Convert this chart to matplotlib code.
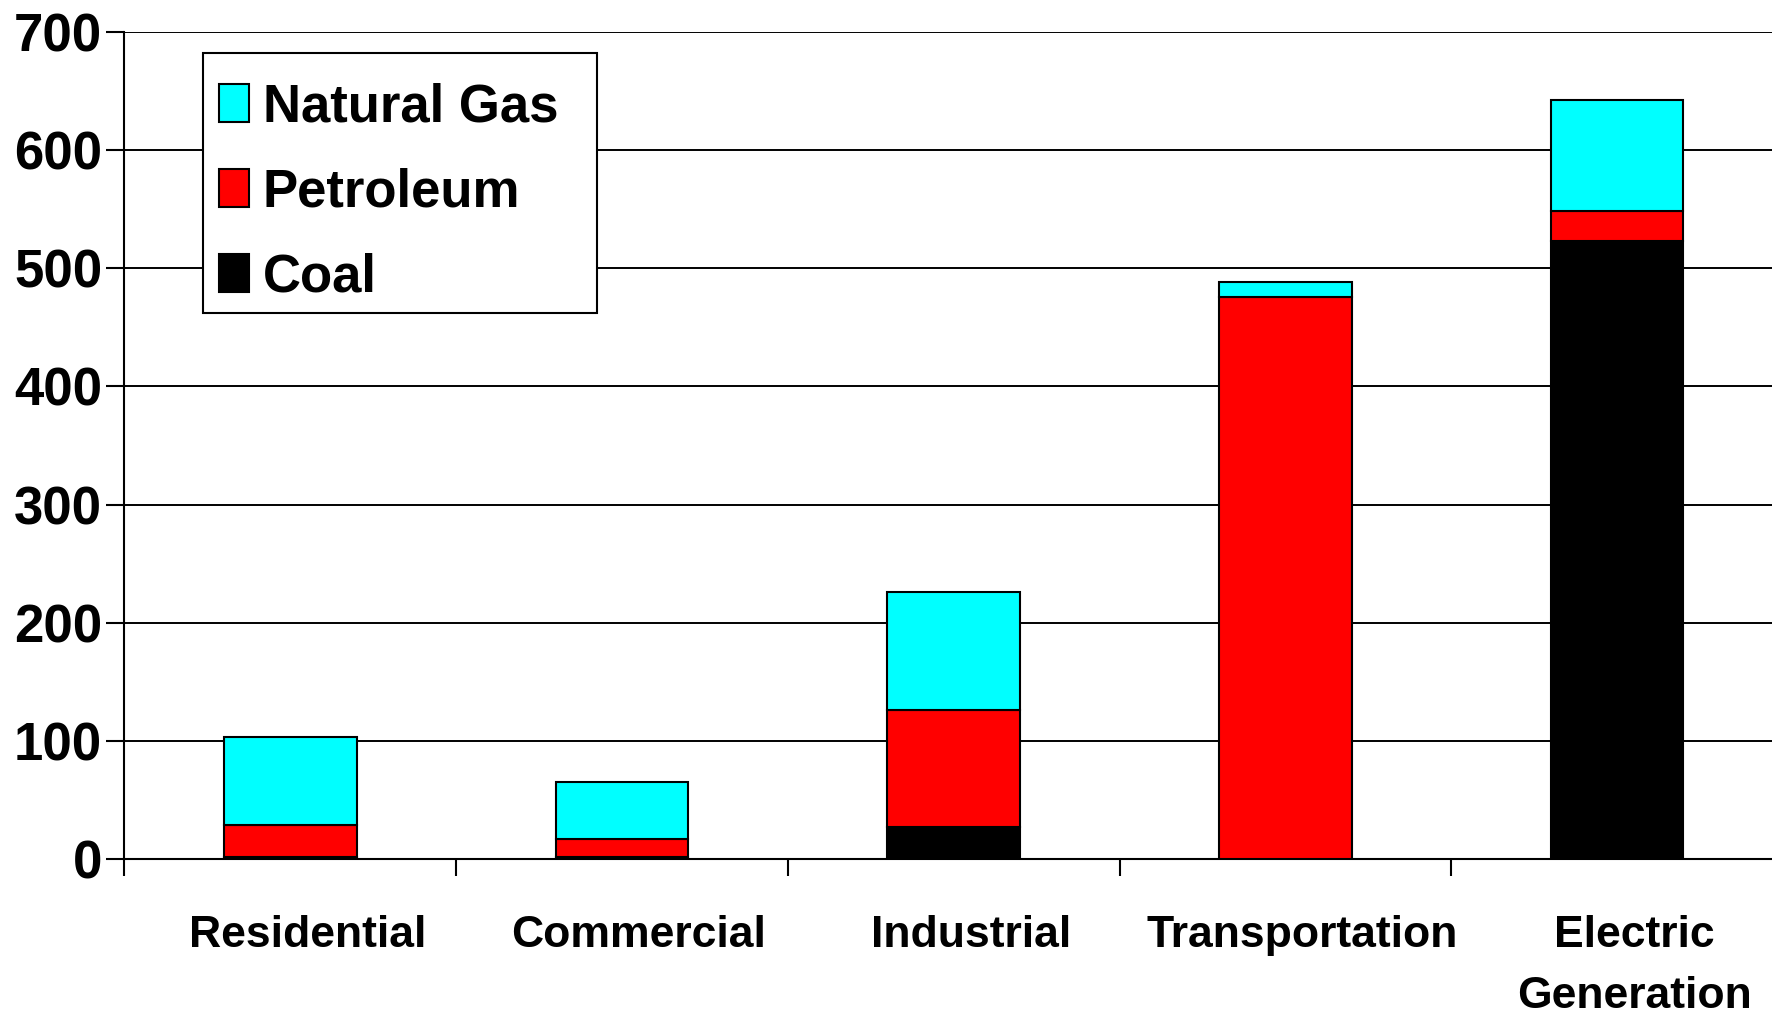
import matplotlib.pyplot as plt
import matplotlib.transforms as mtransforms
from matplotlib.patches import Rectangle
import numpy as np

plt.rcParams['font.family'] = ['Liberation Sans', 'DejaVu Sans']
plt.rcParams['font.weight'] = 'bold'

sectors = ['Residential', 'Commercial', 'Industrial', 'Transportation', 'Electric\nGeneration']
coal = [2, 2, 27, 0, 523]
petroleum = [27, 15, 99, 476, 25]
natural_gas = [74, 48, 100, 12, 94]

fig = plt.figure(figsize=(17.72, 10.14), dpi=100)
ax = fig.add_axes([0.0702, 0.1527, 0.936, 0.816])

x = np.arange(len(sectors))
w = 0.4
bottom2 = np.array(coal) + np.array(petroleum)

b_coal = ax.bar(x, coal, w, color='black', edgecolor='black', linewidth=1.5, label='Coal', zorder=3)
b_pet = ax.bar(x, petroleum, w, bottom=coal, color='#ff0000', edgecolor='black', linewidth=1.5, label='Petroleum', zorder=3)
b_gas = ax.bar(x, natural_gas, w, bottom=bottom2, color='#00ffff', edgecolor='black', linewidth=1.5, label='Natural Gas', zorder=3)

ax.set_xlim(-0.5, 4.5)
ax.set_ylim(0, 700)
ax.set_yticks(range(0, 701, 100))
ax.yaxis.grid(True, color='black', linewidth=1.4, zorder=0)
ax.set_axisbelow(True)

ax.set_xticks(x)
ax.set_xticklabels(sectors, fontsize=32, fontweight='bold', linespacing=1.62)
ax.set_xticks(np.arange(-0.5, 5, 1), minor=True)
ax.tick_params(axis='x', which='major', length=0, pad=40)
ax.tick_params(axis='x', which='minor', length=12, width=1.5, direction='out', color='black')
ax.tick_params(axis='y', length=13, width=1.5, pad=3, labelsize=38)
for t in ax.get_yticklabels():
    t.set_fontweight('bold')

# labels in the reference sit a little right of the bar centres
shift = mtransforms.ScaledTranslation(0.17, 0, fig.dpi_scale_trans)
for t in ax.get_xticklabels():
    t.set_transform(t.get_transform() + shift)

for s in ['top', 'right']:
    ax.spines[s].set_visible(False)
ax.spines['left'].set_linewidth(1.5)
ax.spines['bottom'].set_linewidth(1.5)

# legend box drawn by hand so its padding matches the reference
box = Rectangle((180 / 1568, 1 - 277 / 897), 348 / 1568, 230 / 897, transform=fig.transFigure,
                facecolor='white', edgecolor='black', linewidth=1.5, zorder=4, clip_on=False)
ax.add_patch(box)

leg = ax.legend([b_gas, b_pet, b_coal], ['Natural Gas', 'Petroleum', 'Coal'],
                loc='upper left', bbox_to_anchor=(194 / 1568, 1 - 73 / 897),
                bbox_transform=fig.transFigure, fontsize=38, frameon=False,
                handlelength=0.56, handleheight=0.73, handletextpad=0.26,
                labelspacing=0.66, borderpad=0, borderaxespad=0)
leg.set_zorder(5)
for t in leg.get_texts():
    t.set_fontweight('bold')

fig.savefig('out.png', dpi=100)
